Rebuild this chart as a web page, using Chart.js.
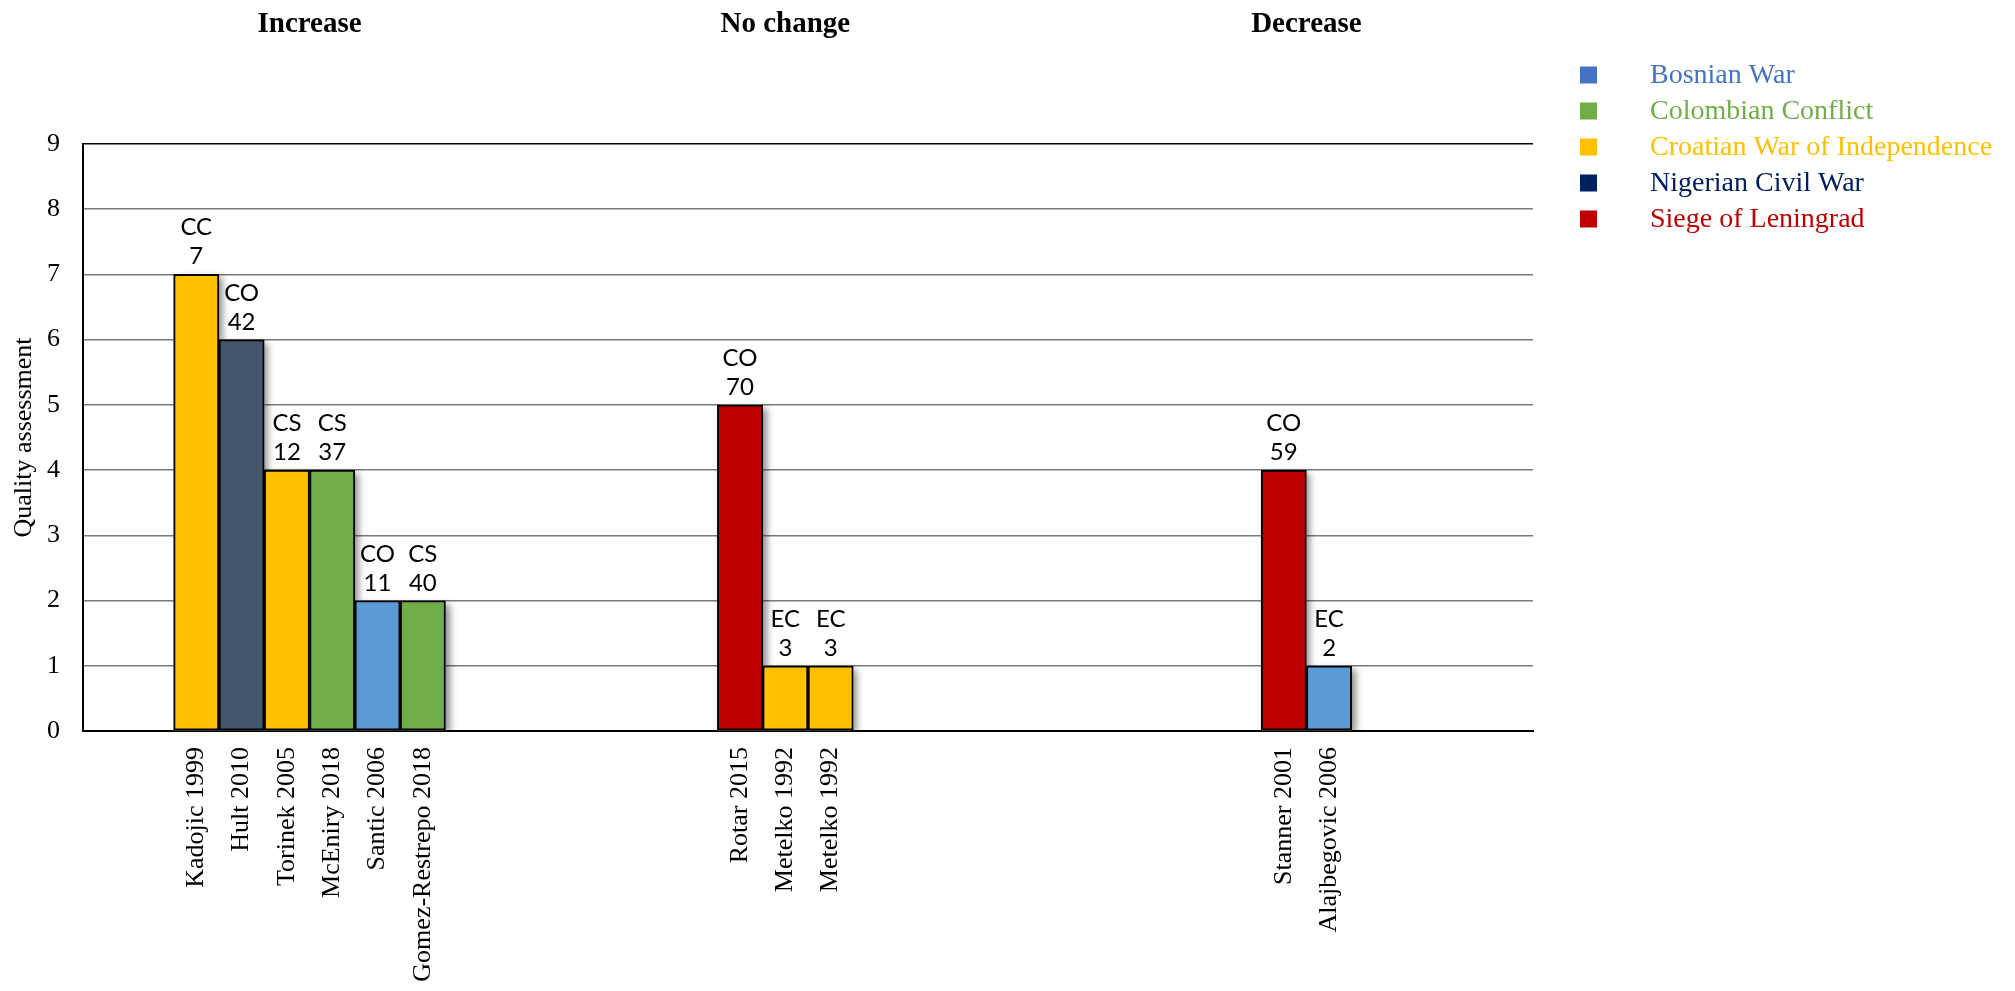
<!DOCTYPE html>
<html>
<head>
<meta charset="utf-8">
<title>Quality assessment</title>
<script src="https://cdn.jsdelivr.net/npm/chart.js@4.4.0/dist/chart.umd.min.js"></script>
<style>
  html, body { margin: 0; padding: 0; background: #fff; }
  #grafico { display: block; }
</style>
</head>
<body>
<canvas id="grafico" width="2015" height="991"></canvas>
<script>
var groupNames = ['Increase', 'No change', 'Decrease'];
// empty categories before each group, and the ones after the last group
var blankSlots = [2, 6, 9, 4];

var studies = ['Kadojic 1999', 'Hult 2010', 'Torinek 2005', 'McEniry 2018', 'Santic 2006', 'Gomez-Restrepo 2018',
  'Rotar 2015', 'Metelko 1992', 'Metelko 1992',
  'Stanner 2001', 'Alajbegovic 2006'];
var studyGroup = [0, 0, 0, 0, 0, 0, 1, 1, 1, 2, 2];
var scores = [7, 6, 4, 4, 2, 2, 5, 1, 1, 4, 1];
var designs = ['CC', 'CO', 'CS', 'CS', 'CO', 'CS', 'CO', 'EC', 'EC', 'CO', 'EC'];
var sampleSizes = [7, 42, 12, 37, 11, 40, 70, 3, 3, 59, 2];
var studyConflict = [2, 3, 2, 1, 0, 1, 4, 2, 2, 4, 0];

var conflictNames = ['Bosnian War', 'Colombian Conflict', 'Croatian War of Independence', 'Nigerian Civil War', 'Siege of Leningrad'];
var barColors = ['#5B9BD5', '#70AD47', '#FFC000', '#44546A', '#C00000'];
var legendColors = ['#4472C4', '#70AD47', '#FFC000', '#002060', '#C00000'];

var serif = "'Times New Roman', 'Liberation Serif', serif";

// one category per study, with empty categories between groups
var labels = [];
var values = [];
var colors = [];
var slotStudy = [];

function addBlanks(n) {
  for (var b = 0; b < n; b++) {
    labels.push('');
    values.push(null);
    colors.push('rgba(0,0,0,0)');
    slotStudy.push(-1);
  }
}

var s = 0;
for (var g = 0; g < groupNames.length; g++) {
  addBlanks(blankSlots[g]);
  while (s < studies.length && studyGroup[s] == g) {
    labels.push(studies[s]);
    values.push(scores[s]);
    colors.push(barColors[studyConflict[s]]);
    slotStudy.push(s);
    s++;
  }
}
addBlanks(blankSlots[groupNames.length]);

var sombras = {
  id: 'sombras',
  beforeDatasetsDraw: function(chart) {
    var ctx = chart.ctx;
    var area = chart.chartArea;
    var meta = chart.getDatasetMeta(0);
    ctx.save();
    ctx.beginPath();
    ctx.rect(area.left, area.top - 20, area.right - area.left + 20, area.bottom - area.top + 20);
    ctx.clip();
    ctx.shadowColor = 'rgba(0,0,0,0.45)';
    ctx.shadowBlur = 7;
    ctx.shadowOffsetX = 4;
    ctx.shadowOffsetY = 3;
    ctx.fillStyle = '#ffffff';
    meta.data.forEach(function(bar, i) {
      if (slotStudy[i] < 0) return;
      var p = bar.getProps(['x', 'y', 'base', 'width'], true);
      ctx.fillRect(p.x - p.width / 2, p.y, p.width, p.base - p.y);
    });
    ctx.restore();
  }
};

var etiquetas = {
  id: 'etiquetas',
  afterDatasetsDraw: function(chart) {
    var ctx = chart.ctx;
    var meta = chart.getDatasetMeta(0);
    ctx.save();
    ctx.font = "24px Lato, 'Noto Sans', sans-serif";
    ctx.fillStyle = '#000';
    ctx.textAlign = 'center';
    ctx.textBaseline = 'alphabetic';
    meta.data.forEach(function(bar, i) {
      var st = slotStudy[i];
      if (st < 0) return;
      ctx.fillText(designs[st], bar.x, bar.y - 39);
      ctx.fillText(String(sampleSizes[st]), bar.x, bar.y - 10);
    });
    ctx.restore();
  }
};

var cabecerasYLeyenda = {
  id: 'cabecerasYLeyenda',
  afterDraw: function(chart) {
    var ctx = chart.ctx;
    var area = chart.chartArea;
    var meta = chart.getDatasetMeta(0);
    ctx.save();

    // group headers above each group of bars
    ctx.font = 'bold 29px ' + serif;
    ctx.fillStyle = '#000';
    ctx.textAlign = 'center';
    ctx.textBaseline = 'alphabetic';
    for (var g = 0; g < groupNames.length; g++) {
      var izq = null, der = null;
      meta.data.forEach(function(bar, i) {
        var st = slotStudy[i];
        if (st < 0 || studyGroup[st] != g) return;
        if (izq === null || bar.x - bar.width / 2 < izq) izq = bar.x - bar.width / 2;
        if (der === null || bar.x + bar.width / 2 > der) der = bar.x + bar.width / 2;
      });
      ctx.fillText(groupNames[g], (izq + der) / 2, 32);
    }

    // legend
    ctx.font = '28px ' + serif;
    ctx.textAlign = 'left';
    ctx.textBaseline = 'middle';
    for (var c = 0; c < conflictNames.length; c++) {
      var y = 75 + c * 36;
      ctx.fillStyle = legendColors[c];
      ctx.fillRect(area.right + 47, y - 8.5, 17, 17);
      ctx.fillText(conflictNames[c], area.right + 117, y + 1);
    }
    ctx.restore();
  }
};

Chart.defaults.color = '#000';

var contexto = document.getElementById('grafico').getContext('2d');
var chart = new Chart(contexto, {
  type: 'bar',
  data: {
    labels: labels,
    datasets: [{
      label: 'Quality assessment',
      data: values,
      backgroundColor: colors,
      borderColor: '#000',
      borderWidth: 2,
      borderSkipped: false,
      barPercentage: 1,
      categoryPercentage: 1
    }]
  },
  options: {
    responsive: false,
    animation: false,
    layout: { padding: { top: 144, right: 482, left: 0, bottom: 0 } },
    plugins: {
      legend: { display: false },
      tooltip: { enabled: false }
    },
    scales: {
      x: {
        grid: { display: false, drawTicks: false },
        border: { display: true, color: '#000', width: 2 },
        ticks: {
          autoSkip: false,
          minRotation: 90,
          maxRotation: 90,
          padding: 16,
          font: { family: serif, size: 26 }
        },
        afterFit: function(scale) { scale.height = 260; }
      },
      y: {
        min: 0,
        max: 9,
        ticks: {
          stepSize: 1,
          padding: 23,
          font: { family: serif, size: 26 }
        },
        grid: {
          drawTicks: false,
          lineWidth: 1.5,
          color: function(c) { return c.tick && c.tick.value == 9 ? '#000' : '#7a7a7a'; }
        },
        border: { display: true, color: '#000', width: 2 },
        title: {
          display: true,
          text: 'Quality assessment',
          padding: { top: 9, bottom: 0 },
          font: { family: serif, size: 26 }
        },
        afterFit: function(scale) { scale.width = 83; }
      }
    }
  },
  plugins: [sombras, etiquetas, cabecerasYLeyenda]
});
</script>
</body>
</html>
